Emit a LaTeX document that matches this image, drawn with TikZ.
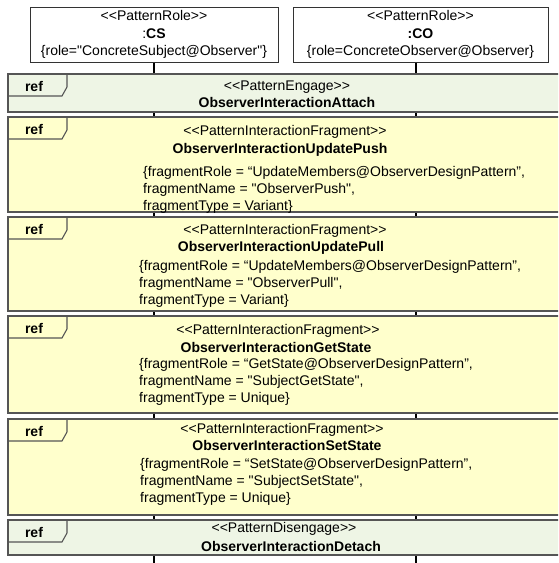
\documentclass[tikz,border=0pt]{standalone}
\usepackage{fontspec}
\setmainfont{Liberation Sans}[Ligatures=TeXOff]
\usetikzlibrary{calc}

\definecolor{engagegreen}{HTML}{EEF5E5}
\definecolor{fragyellow}{HTML}{FFFFCC}
\definecolor{framegray}{HTML}{555555}

\begin{document}
\begin{tikzpicture}[x=1pt, y=-1pt,
        every node/.style={inner sep=0pt, font=\fontsize{14}{17.5}\selectfont},
        rolebox/.style={draw=black!80, line width=1pt, fill=white, align=center,
            minimum height=55pt},
        lifeline/.style={draw=black, line width=1.2pt},
        refframe/.style={draw=framegray, line width=1.6pt},
        reftab/.style={draw=framegray, line width=1.1pt},
        reflabel/.style={font=\fontsize{14}{17}\selectfont\bfseries},
        fragname/.style={font=\fontsize{14}{17}\selectfont\bfseries},
        fragtags/.style={anchor=north west, align=left, font=\fontsize{14}{17}\selectfont}]
    \useasboundingbox (0,0) rectangle (558,563);
    \clip (0,0) rectangle (558,563);

    % the two pattern roles and their lifelines
    \node[rolebox, minimum width=248pt] (cs) at (154,34.5)
        {<<PatternRole>>\\:\textbf{CS}\\\{role="ConcreteSubject@Observer"\}};
    \node[rolebox, minimum width=255pt] (co) at (420.5,34.5)
        {<<PatternRole>>\\\textbf{:CO}\\\{role=ConcreteObserver@Observer\}};
    \coordinate (cs-end) at (154,563);
    \coordinate (co-end) at (416,563);
    \draw[lifeline] (cs.south) -- (cs-end);
    \draw[lifeline] (co.south -| co-end) -- (co-end);

    % interaction uses, top to bottom
    \foreach \ytop/\ybot/\col/\id in {74/112/engagegreen/attach, 117/212/fragyellow/push,
            217/311/fragyellow/pull, 316/413/fragyellow/get, 419/515/fragyellow/set,
            520/555/engagegreen/detach} {
        \draw[refframe, fill=\col] (8,\ytop) rectangle (570,\ybot);
        \draw[reftab] (8,\ytop+22) -- (62,\ytop+22) -- (67,\ytop+13) -- (67,\ytop);
        \node[reflabel] (ref-\id) at (34,\ytop+12) {ref};
    }

    \node (attach-st) at (287,87) {<<PatternEngage>>};
    \node[fragname] (attach) at (287,102) {ObserverInteractionAttach};

    \node (push-st) at (285,132) {<<PatternInteractionFragment>>};
    \node[fragname] (push) at (280,150) {ObserverInteractionUpdatePush};
    \node[fragtags] (push-tags) at (143,166)
        {\{fragmentRole = “UpdateMembers@ObserverDesignPattern”,\\fragmentName = "ObserverPush",\\fragmentType = Variant\}};

    \node (pull-st) at (285,231) {<<PatternInteractionFragment>>};
    \node[fragname] (pull) at (281,248) {ObserverInteractionUpdatePull};
    \node[fragtags] (pull-tags) at (139,260)
        {\{fragmentRole = “UpdateMembers@ObserverDesignPattern”,\\fragmentName = "ObserverPull",\\fragmentType = Variant\}};

    \node (get-st) at (278,331) {<<PatternInteractionFragment>>};
    \node[fragname] (get) at (276,347) {ObserverInteractionGetState};
    \node[fragtags] (get-tags) at (139,358)
        {\{fragmentRole = “GetState@ObserverDesignPattern”,\\fragmentName = "SubjectGetState",\\fragmentType = Unique\}};

    \node (set-st) at (282,430) {<<PatternInteractionFragment>>};
    \node[fragname] (set) at (287,445) {ObserverInteractionSetState};
    \node[fragtags] (set-tags) at (140,458)
        {\{fragmentRole = “SetState@ObserverDesignPattern”,\\fragmentName = "SubjectSetState",\\fragmentType = Unique\}};

    \node (detach-st) at (284,529) {<<PatternDisengage>>};
    \node[fragname] (detach) at (291,546) {ObserverInteractionDetach};
\end{tikzpicture}
\end{document}
